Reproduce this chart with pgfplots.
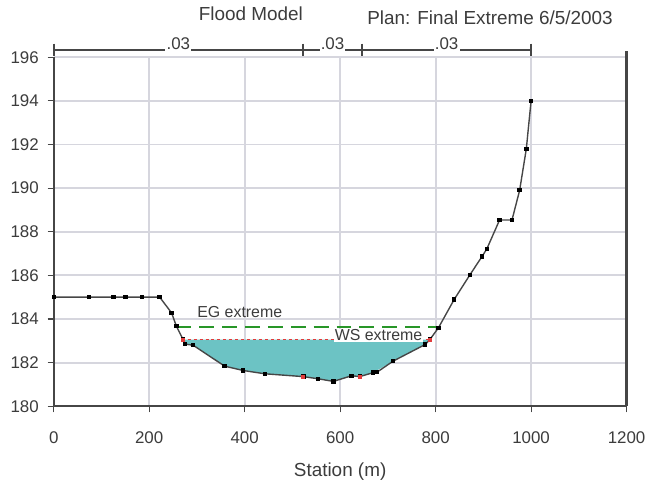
\documentclass[border=0pt]{standalone}
\usepackage{pgfplots}
\pgfplotsset{compat=1.18}
\usepackage{fontspec}
\setmainfont{Liberation Sans}
\definecolor{gridc}{RGB}{214,214,222}
\definecolor{axc}{RGB}{70,70,70}
\definecolor{waterc}{RGB}{108,195,196}
\definecolor{egc}{RGB}{40,150,40}
\definecolor{wsc}{RGB}{225,60,60}
\definecolor{txtc}{RGB}{60,60,60}
\begin{document}
\begin{tikzpicture}
\begin{axis}[
  scale only axis, width=288pt, height=175.5pt,
  xmin=0, xmax=1200, ymin=180, ymax=196,
  xtick={0,200,...,1200}, ytick={180,182,...,196},
  grid=major, major grid style={gridc, line width=0.9pt},
  axis x line=bottom, axis y line=left,
  axis line style={-, axc, line width=1pt},
  tick align=outside, tick style={axc, line width=0.6pt}, major tick length=3pt,
  /pgf/number format/assume math mode=true,
  /pgf/number format/1000 sep={},
  ticklabel style={font=\fontsize{8.5}{10}\selectfont, text=txtc},
  xticklabel style={yshift=-6pt},
  yticklabel style={xshift=-1pt},
  xlabel={Station (m)},
  xlabel style={font=\fontsize{9.5}{11}\selectfont, text=txtc, yshift=-3pt},
  clip=false,
]
% right frame line
\addplot[axc, line width=1.2pt, forget plot] coordinates {(1200,180) (1200,196.3)};
% water area (between WS and ground)
\addplot[fill=waterc, draw=none] coordinates {
 (271,183.06) (275,182.85) (292,182.80) (358,181.84) (397,181.64) (442,181.49)
 (523,181.36) (554,181.26) (586,181.14) (624,181.40) (641,181.36) (669,181.54)
 (711,182.07) (778,182.83) (788,183.06)} -- cycle;
% EG line
\addplot[egc, line width=1pt, dash pattern=on 7.5pt off 4pt] coordinates {(257,183.65) (806,183.65)};
% WS line
\addplot[wsc, line width=0.9pt, dash pattern=on 1.5pt off 1.5pt] coordinates {(268,183.06) (790,183.06)};
% ground
\addplot[axc, line width=0.7pt, mark=square*, mark size=0.75pt, mark options={black}] coordinates {
 (0,185.0) (74,185.0) (125,185.0) (150,185.0) (185,185.0) (222,185.0)
 (247,184.28) (257,183.67) (271,183.06) (275,182.85) (292,182.80)
 (358,181.84) (397,181.64) (442,181.49) (523,181.36) (554,181.26)
 (586,181.14) (624,181.40) (641,181.36) (669,181.54) (677,181.56)
 (711,182.07) (778,182.83) (788,183.06) (806,183.60) (839,184.90)
 (872,186.03) (897,186.86) (907,187.20) (934,188.54) (960,188.54)
 (976,189.90) (990,191.80) (1000,194.00)};
% red points on WS
\addplot[only marks, mark=square*, mark size=0.75pt, wsc] coordinates {(271,183.06) (523,181.36) (641,181.36) (788,183.06)};
% Manning's n bracket
\addplot[axc, line width=1pt, mark=|, mark size=3pt, mark options={axc, line width=0.8pt}] coordinates {(0,196.35) (522,196.35) (646,196.35) (1000,196.35)};
\node[fill=white, inner sep=0.6pt, font=\fontsize{8.5}{10}\selectfont, text=txtc] at (axis cs:261,196.6) {.03};
\node[fill=white, inner sep=0.6pt, font=\fontsize{8.5}{10}\selectfont, text=txtc] at (axis cs:584,196.6) {.03};
\node[fill=white, inner sep=0.6pt, font=\fontsize{8.5}{10}\selectfont, text=txtc] at (axis cs:823,196.6) {.03};
% labels
\node[anchor=west, font=\fontsize{8}{10}\selectfont, text=txtc, inner sep=0pt] at (axis cs:300,184.3) {EG extreme};
\node[anchor=east, fill=white, font=\fontsize{8}{10}\selectfont, text=txtc, inner sep=0.5pt] at (axis cs:775,183.25) {WS extreme};
% titles
\node[font=\fontsize{9.5}{11}\selectfont, text=txtc] at (axis cs:413,198.0) {Flood Model};
\node[font=\fontsize{9.5}{11}\selectfont, text=txtc] at (axis cs:914,197.8) {Plan: Final Extreme 6/5/2003};
% bounding box
\path (rel axis cs:0,0) ++(-27pt,-34pt) coordinate (bbsw);
\path (rel axis cs:1,1) ++(12pt,28.5pt) coordinate (bbne);
\end{axis}
\useasboundingbox (bbsw) rectangle (bbne);
\end{tikzpicture}
\end{document}
